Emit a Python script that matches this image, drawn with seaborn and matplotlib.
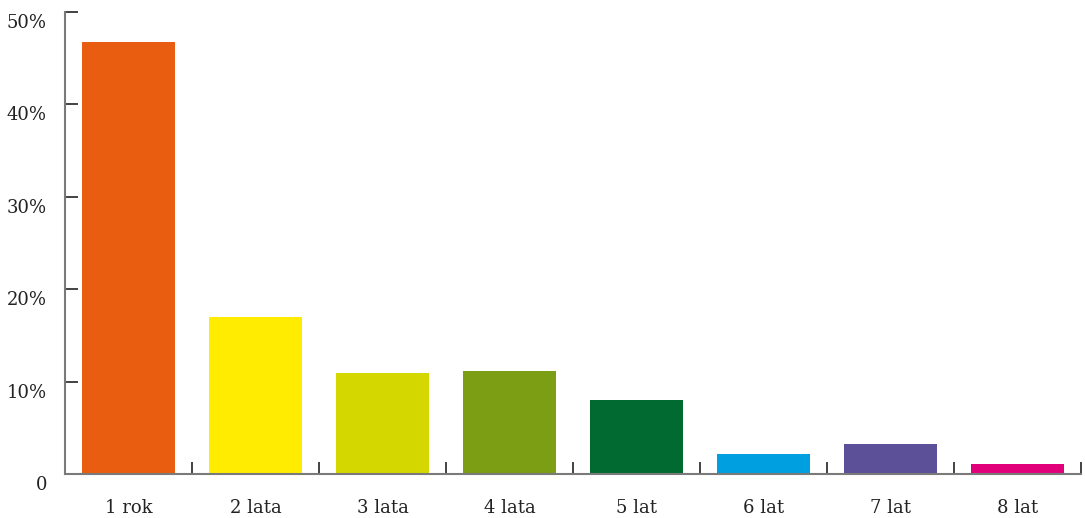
import matplotlib
matplotlib.use("Agg")
import matplotlib.pyplot as plt
import matplotlib.transforms as mtransforms
import seaborn as sns
import pandas as pd

categories = ["1 rok", "2 lata", "3 lata", "4 lata", "5 lat", "6 lat", "7 lat", "8 lat"]
values = [46.8, 17.0, 10.9, 11.1, 8.0, 2.2, 3.3, 1.1]
colors = ["#E85D0F", "#FFEC00", "#D4D700", "#7C9E14", "#006A31", "#00A0E0", "#5C5099", "#E2007A"]
yticks = [0, 10, 20, 30, 40, 50]
ytick_labels = ["0", "10%", "20%", "30%", "40%", "50%"]

sns.set_style("white")
plt.rcParams["font.family"] = ["DejaVu Serif"]

df = pd.DataFrame({"cat": categories, "val": values})

fig = plt.figure(figsize=(10.85, 5.18), dpi=100)
ax = fig.add_axes([65 / 1085, 44 / 518, 1016 / 1085, 462 / 518])

sns.barplot(data=df, x="cat", y="val", hue="cat", palette=colors, width=0.725,
            saturation=1, legend=False, linewidth=0, ax=ax)

ax.set_xlim(-0.5, len(categories) - 0.5)
ax.set_ylim(0, 50)
ax.set_xlabel("")
ax.set_ylabel("")

for s in ["top", "right"]:
    ax.spines[s].set_visible(False)
for s in ["left", "bottom"]:
    ax.spines[s].set_color("#7a7a7a")
    ax.spines[s].set_linewidth(1.5)

ax.set_yticks(yticks)
ax.set_yticklabels(ytick_labels)
ax.tick_params(axis="y", left=True, direction="in", length=9, width=1.2, color="#222222",
               pad=13, labelsize=13, labelcolor="#222222")

ax.set_xticks(range(len(categories)))
ax.set_xticklabels(categories)
ax.set_xticks([i + 0.5 for i in range(len(categories))], minor=True)
ax.tick_params(axis="x", which="major", bottom=True, length=0, pad=18, labelsize=13, labelcolor="#222222")
ax.tick_params(axis="x", which="minor", bottom=True, direction="in", length=9, width=1.2, color="#222222")

offset = mtransforms.ScaledTranslation(0, -9 / 100, fig.dpi_scale_trans)
for lab in ax.get_yticklabels():
    lab.set_transform(lab.get_transform() + offset)

fig.savefig("out.png", dpi=100)
